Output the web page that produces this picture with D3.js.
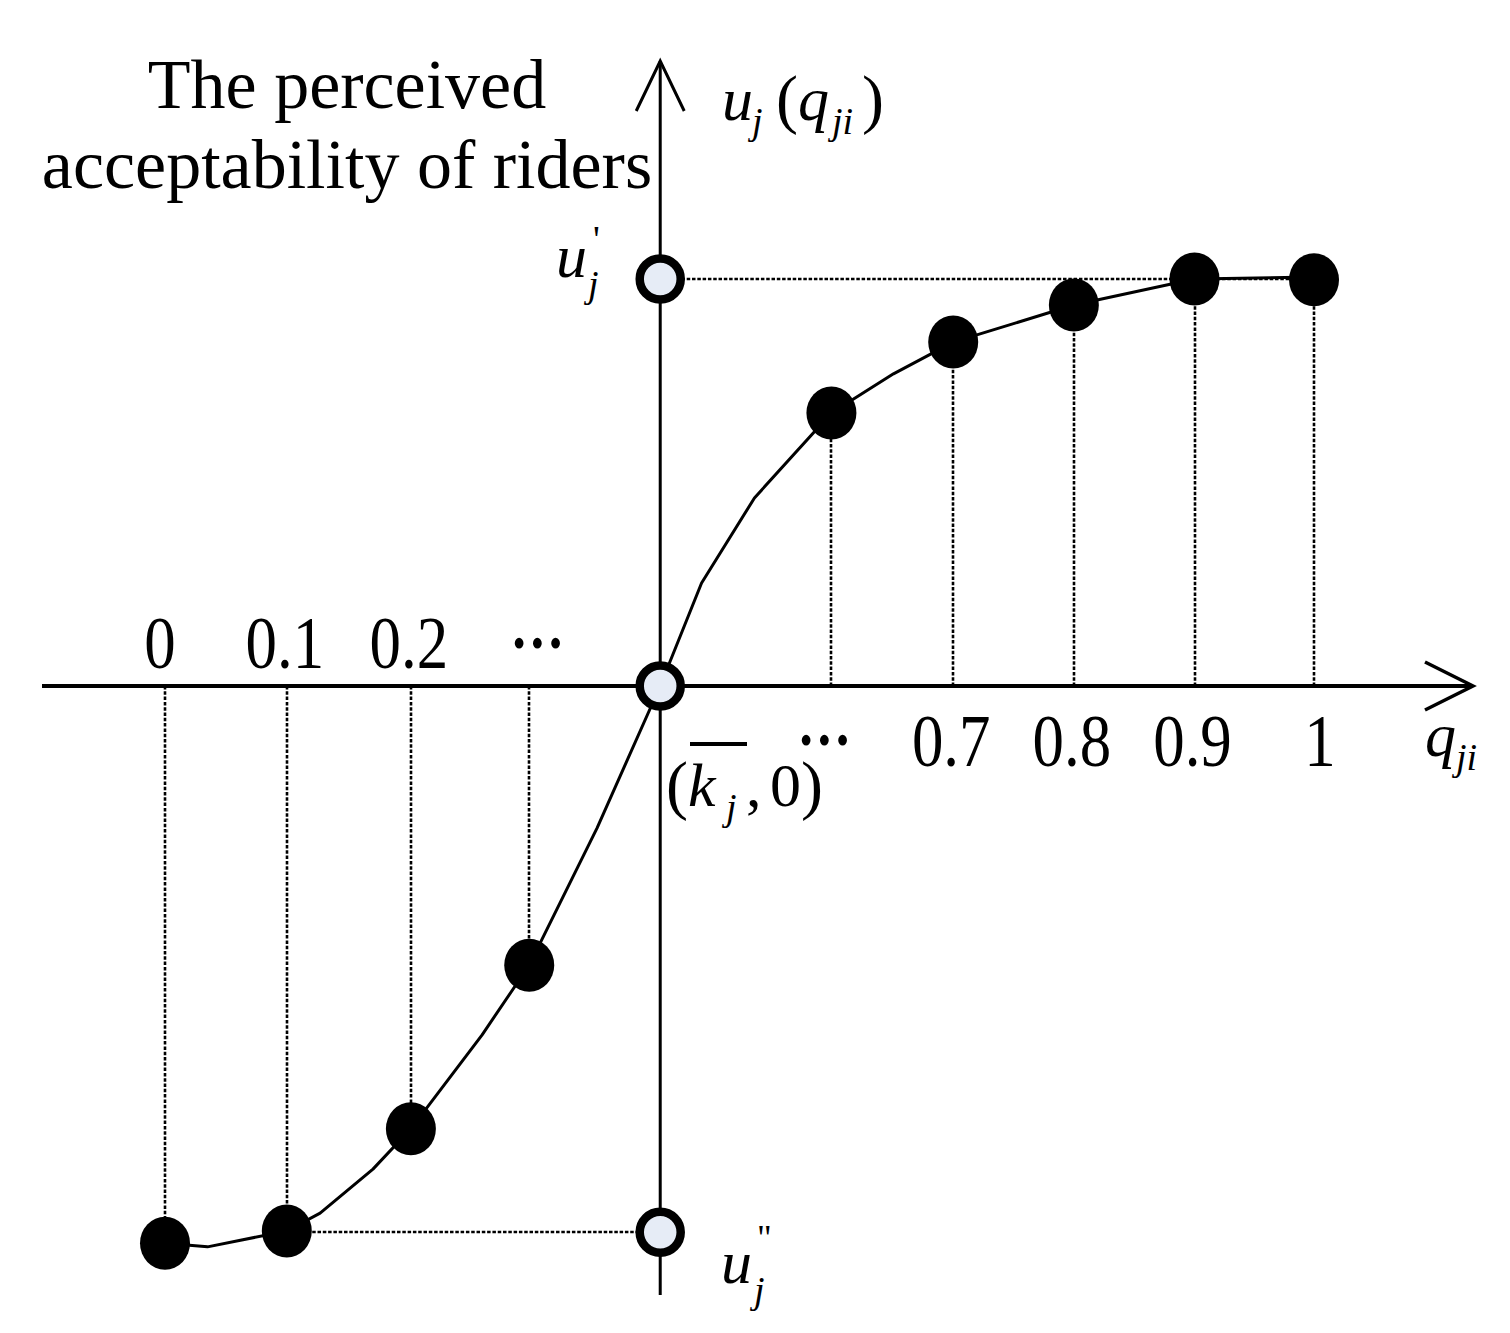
<!DOCTYPE html>
<html><head><meta charset="utf-8">
<script src="https://cdn.jsdelivr.net/npm/d3@7"></script>
<style>html,body{margin:0;padding:0;background:#fff;}svg{display:block;}</style>
</head><body>
<svg id="chart" width="1510" height="1333"></svg>
<script>
// ---- data (diagram units: q on x, u on y with u' = 1) ----
const categories = ["0", "0.1", "0.2", "\u2026", "\u2026", "0.7", "0.8", "0.9", "1"];
const pointQ = [0, 0.106, 0.214, 0.317, 0.580, 0.686, 0.791, 0.896, 1.0];
const pointU = [-1.369, -1.339, -1.088, -0.686, 0.671, 0.845, 0.936, 1.0, 0.998];
const labelAbove = [true, true, true, true, false, false, false, false, false];
const curveQ = [0, 0.037, 0.106, 0.135, 0.181, 0.214, 0.276, 0.317, 0.376, 0.431, 0.467, 0.513, 0.580, 0.634, 0.686, 0.791, 0.896, 1.0];
const curveU = [-1.369, -1.378, -1.339, -1.295, -1.187, -1.088, -0.857, -0.686, -0.349, 0, 0.253, 0.462, 0.671, 0.767, 0.845, 0.936, 1.0, 1.005];
const kBar = 0.431;          // q position of the reference point (k̄_j, 0)
const uPrime = 1.0;          // u'_j
const uDouble = -1.342;      // u''_j
const titleLines = ["The perceived", "acceptability of riders"];

const svg = d3.select("#chart");
const x = d3.scaleLinear().domain([0, 1]).range([165, 1314]);
const y = d3.scaleLinear().domain([0, 1]).range([686, 279]);

const serif = "'Liberation Serif', 'DejaVu Serif', serif";
const dotted = sel => sel.attr("stroke", "#000").attr("stroke-width", 2.6).attr("stroke-dasharray", "3.5,1.8");

// ---- dotted guide lines ----
const g = svg.append("g");
pointQ.forEach((q, i) => {
  g.append("line").attr("x1", Math.round(x(q))).attr("x2", Math.round(x(q))).attr("y1", y(0)).attr("y2", y(pointU[i])).call(dotted);
});
g.append("line").attr("x1", x(kBar)).attr("x2", x(pointQ[8])).attr("y1", Math.round(y(uPrime))).attr("y2", Math.round(y(uPrime))).call(dotted);
g.append("line").attr("x1", x(kBar)).attr("x2", x(pointQ[1])).attr("y1", Math.round(y(uDouble))).attr("y2", Math.round(y(uDouble))).call(dotted);

// ---- axes ----
const axisLeft = 42, axisRight = 1473, axisTop = 61, axisBottom = 1295;
svg.append("line").attr("x1", axisLeft).attr("x2", axisRight).attr("y1", y(0)).attr("y2", y(0))
  .attr("stroke", "#000").attr("stroke-width", 4);
svg.append("path").attr("d", `M${axisRight - 48},${y(0) - 24} L${axisRight},${y(0)} L${axisRight - 48},${y(0) + 24}`)
  .attr("fill", "none").attr("stroke", "#000").attr("stroke-width", 3.5);
svg.append("line").attr("x1", x(kBar)).attr("x2", x(kBar)).attr("y1", axisBottom).attr("y2", axisTop)
  .attr("stroke", "#000").attr("stroke-width", 3);
svg.append("path").attr("d", `M${x(kBar) - 24},${axisTop + 50} L${x(kBar)},${axisTop} L${x(kBar) + 24},${axisTop + 50}`)
  .attr("fill", "none").attr("stroke", "#000").attr("stroke-width", 3);

// ---- curve ----
const line = d3.line().x(d => x(d[0])).y(d => y(d[1]));
svg.append("path").datum(d3.zip(curveQ, curveU)).attr("d", line)
  .attr("fill", "none").attr("stroke", "#000").attr("stroke-width", 3).attr("stroke-linejoin", "round");

// ---- points ----
svg.selectAll("ellipse.pt").data(d3.zip(pointQ, pointU)).join("ellipse").attr("class", "pt")
  .attr("cx", d => x(d[0])).attr("cy", d => y(d[1])).attr("rx", 25).attr("ry", 26.5).attr("fill", "#000");

// ---- open circles on the vertical axis ----
svg.selectAll("circle.open").data([uPrime, 0, uDouble]).join("circle").attr("class", "open")
  .attr("cx", x(kBar)).attr("cy", d => y(d)).attr("r", 20.5)
  .attr("fill", "#e6ecf6").attr("stroke", "#000").attr("stroke-width", 8.5);

// ---- tick labels ----
categories.forEach((c, i) => {
  const isDots = c === "\u2026";
  const ty = labelAbove[i] ? (isDots ? 648 : 668) : (isDots ? 745 : 766);
  const dx = isDots ? (labelAbove[i] ? 8 : -7) : (i === 0 ? -5 : (i === 8 ? 6 : -2));
  svg.append("text")
    .attr("transform", `translate(${x(pointQ[i]) + dx},${ty}) scale(${isDots ? 0.82 : 0.85},1)`)
    .attr("text-anchor", "middle").attr("font-family", serif).attr("font-size", isDots ? 66 : 74)
    .attr("font-weight", isDots ? "bold" : "normal")
    .text(c);
});

// ---- title ----
titleLines.forEach((t, i) => {
  svg.append("text").attr("x", 347).attr("y", 108 + i * 80).attr("text-anchor", "middle")
    .attr("font-family", serif).attr("font-size", 70).text(t);
});

// ---- math labels ----
function mt(xp, yp, str, size, italic) {
  return svg.append("text").attr("x", xp).attr("y", yp).attr("font-family", serif)
    .attr("font-size", size).attr("font-style", italic ? "italic" : "normal").text(str);
}
// u_j(q_ji)
mt(722, 120, "u", 62, true);
mt(752, 134, "j", 38, true);
mt(776, 121, "(", 66, false);
mt(798, 120, "q", 62, true);
mt(832, 134, "ji", 38, true);
mt(862, 121, ")", 66, false);
// u'_j
mt(556, 277, "u", 62, true);
mt(593, 252, "'", 38, false);
mt(588, 297, "j", 38, true);
// u''_j
mt(721, 1283, "u", 62, true);
mt(757, 1250, "\"", 36, false);
mt(754, 1303, "j", 38, true);
// (k̄_j, 0)
mt(666, 807, "(", 66, false);
mt(688, 806, "k", 62, true);
svg.append("line").attr("x1", 690).attr("x2", 747).attr("y1", 744).attr("y2", 744)
  .attr("stroke", "#000").attr("stroke-width", 4);
mt(726, 820, "j", 38, true);
mt(746, 806, ",", 62, false);
mt(770, 806, "0", 62, false);
mt(801, 807, ")", 66, false);
// q_ji
mt(1425, 756, "q", 62, true);
mt(1456, 770, "ji", 38, true);
</script>
</body></html>
